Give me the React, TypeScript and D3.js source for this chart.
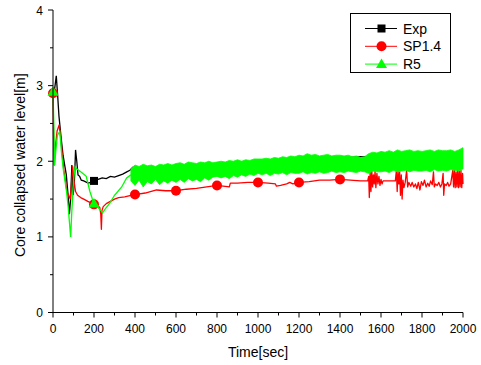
import React from "react";
import * as d3 from "d3";

const W = 481;
const H = 365;

const xTicks = [0, 200, 400, 600, 800, 1000, 1200, 1400, 1600, 1800, 2000];
const xMinor = [100, 300, 500, 700, 900, 1100, 1300, 1500, 1700, 1900];
const yTicks = [0, 1, 2, 3, 4];
const yMinor = [0.5, 1.5, 2.5, 3.5];

const seriesNames = ["Exp", "SP1.4", "R5"];
const seriesColors = ["#000000", "#ff0000", "#00ff00"];

// Exp (black)
const expT = [0, 5, 10, 16, 22, 29, 40, 49, 57, 65, 72, 80, 86, 92, 98, 104, 110, 116, 122, 130, 138, 150, 171, 185, 200, 220, 240, 260, 280, 300, 320, 340, 360, 375, 390, 420, 450, 500, 550, 600, 650, 700, 750, 800, 850, 900, 950, 1000, 1050, 1100, 1150, 1200, 1300, 1400, 1500, 1600, 1700, 1800, 1900, 2000];
const expV = [2.95, 2.9, 3.0, 3.13, 2.9, 2.6, 2.3, 2.08, 1.95, 1.82, 1.6, 1.3, 1.5, 1.95, 1.55, 1.7, 2.15, 2.0, 1.82, 1.8, 1.75, 1.74, 1.71, 1.72, 1.74, 1.76, 1.78, 1.77, 1.8, 1.79, 1.81, 1.83, 1.86, 1.88, 1.92, 1.9, 1.92, 1.91, 1.93, 1.93, 1.94, 1.95, 1.96, 1.97, 1.96, 1.98, 1.99, 1.99, 2.0, 2.01, 2.01, 2.02, 2.03, 2.04, 2.06, 2.05, 2.06, 2.07, 2.07, 2.08];
const expMarkT = [200];

// SP1.4 (red)
const spT = [0, 3, 6, 12, 20, 30, 38, 45, 52, 60, 68, 76, 84, 90, 96, 102, 110, 120, 135, 150, 170, 200, 215, 228, 233, 236, 239, 245, 260, 280, 300, 320, 350, 380, 400, 450, 505, 550, 600, 650, 700, 750, 800, 860, 865, 900, 950, 1000, 1050, 1085, 1090, 1110, 1140, 1155, 1170, 1200, 1250, 1300, 1350, 1400, 1450, 1500, 1535,
  1540, 1543, 1547, 1551, 1555, 1559, 1563, 1567, 1571, 1575, 1580, 1585, 1590, 1595, 1600, 1605, 1610, 1640, 1670,
  1675, 1679, 1683, 1687, 1691, 1695, 1699, 1703, 1707, 1712, 1718, 1725, 1730, 1736,
  1745, 1752, 1760, 1768, 1775, 1782, 1790, 1797, 1805, 1812, 1820, 1828, 1835, 1842, 1850, 1856, 1860, 1866, 1874, 1882, 1890, 1897, 1903, 1906, 1910, 1918, 1925, 1932, 1940,
  1950, 1954, 1958, 1962, 1966, 1970, 1974, 1978, 1982, 1986, 1990, 1994, 1998, 2000];
const spV = [2.9, 2.3, 1.95, 2.2, 2.4, 2.48, 2.3, 2.1, 1.9, 1.75, 1.6, 1.55, 1.5, 1.7, 1.93, 1.75, 1.6, 1.55, 1.52, 1.5, 1.47, 1.43, 1.41, 1.39, 1.3, 1.1, 1.35, 1.4, 1.44, 1.47, 1.5, 1.52, 1.53, 1.55, 1.56, 1.58, 1.62, 1.61, 1.61, 1.63, 1.64, 1.66, 1.68, 1.66, 1.71, 1.71, 1.72, 1.72, 1.71, 1.7, 1.67, 1.68, 1.7, 1.72, 1.7, 1.72, 1.73, 1.75, 1.75, 1.76, 1.75, 1.74, 1.74,
  1.8, 1.52, 1.86, 1.6, 1.88, 1.66, 1.82, 1.7, 1.87, 1.65, 1.84, 1.7, 1.8, 1.68, 1.76, 1.7, 1.74, 1.74, 1.74,
  1.88, 1.6, 1.87, 1.7, 1.86, 1.55, 1.82, 1.5, 1.75, 1.65, 1.72, 1.88, 1.66, 1.72,
  1.67, 1.72, 1.66, 1.7, 1.64, 1.72, 1.62, 1.73, 1.68, 1.75, 1.66, 1.71, 1.67, 1.74, 1.69, 1.86, 1.66, 1.7, 1.68, 1.72, 1.66, 1.7, 1.84, 1.55, 1.7, 1.68, 1.72, 1.67, 1.7,
  1.88, 1.66, 1.88, 1.65, 1.86, 1.66, 1.88, 1.65, 1.87, 1.66, 1.88, 1.65, 1.84, 1.7];
const spMarkT = [0, 200, 400, 600, 800, 1000, 1200, 1400];

// R5 (green) early trace
const r5T = [0, 4, 8, 14, 22, 33, 42, 50, 58, 66, 74, 80, 86, 92, 100, 108, 115, 125, 140, 162, 180, 192, 200, 215, 230, 242, 255, 278, 300, 310, 335, 359, 380];
const r5V = [2.92, 2.5, 1.95, 2.15, 2.35, 2.39, 2.1, 1.9, 1.75, 1.6, 1.4, 1.2, 1.0, 1.35, 1.75, 1.93, 1.9, 1.88, 1.85, 1.8, 1.6, 1.5, 1.44, 1.4, 1.36, 1.32, 1.37, 1.45, 1.55, 1.58, 1.66, 1.78, 1.82];
// R5 oscillation band (lower / upper envelope, read every 20 s)
const bandT = [380, 400, 420, 440, 460, 480, 500, 520, 540, 560, 580, 600,
  620, 640, 660, 680, 700, 720, 740, 760, 780, 800,
  820, 840, 860, 880, 900, 920, 940, 960, 980, 1000,
  1020, 1040, 1060, 1080, 1100, 1120, 1140, 1160, 1180, 1200,
  1220, 1240, 1260, 1280, 1300, 1320, 1340, 1360, 1380, 1400,
  1420, 1440, 1460, 1480, 1500, 1520, 1540, 1560, 1580, 1600,
  1620, 1640, 1660, 1680, 1700, 1720, 1740, 1760, 1780, 1800,
  1820, 1840, 1860, 1880, 1900, 1920, 1940, 1960, 1980, 2000];
const bandHi = [1.9, 1.95, 1.93, 1.96, 1.94, 1.95, 1.93, 1.96, 1.95, 1.97, 1.95, 1.97,
  1.98, 1.96, 1.99, 1.98, 1.97, 1.99, 1.98, 2.0, 1.98, 1.99,
  2.0, 1.99, 2.01, 2.0, 2.02, 2.0, 2.02, 2.01, 2.03, 2.03,
  2.03, 2.04, 2.03, 2.05, 2.04, 2.06, 2.05, 2.07, 2.06, 2.08,
  2.07, 2.1, 2.08, 2.09, 2.07, 2.08, 2.09, 2.07, 2.08, 2.08,
  2.07, 2.08, 2.06, 2.07, 2.05, 2.06, 2.1, 2.12, 2.11, 2.13,
  2.12, 2.14, 2.12, 2.15, 2.13, 2.14, 2.15, 2.13, 2.14, 2.13,
  2.14, 2.15, 2.13, 2.15, 2.14, 2.14, 2.15, 2.13, 2.15, 2.18];
const bandLo = [1.74, 1.68, 1.75, 1.66, 1.73, 1.7, 1.76, 1.69, 1.74, 1.71, 1.75, 1.72,
  1.76, 1.72, 1.77, 1.74, 1.76, 1.73, 1.78, 1.75, 1.79, 1.8,
  1.78, 1.8, 1.77, 1.81, 1.79, 1.82, 1.8, 1.83, 1.81, 1.84,
  1.82, 1.84, 1.81, 1.84, 1.83, 1.85, 1.82, 1.85, 1.84, 1.84,
  1.86, 1.83, 1.85, 1.84, 1.86, 1.84, 1.85, 1.87, 1.85, 1.86,
  1.85, 1.87, 1.86, 1.85, 1.87, 1.86, 1.84, 1.87, 1.86, 1.86,
  1.87, 1.85, 1.88, 1.86, 1.87, 1.88, 1.86, 1.88, 1.87, 1.87,
  1.88, 1.86, 1.89, 1.87, 1.88, 1.87, 1.89, 1.88, 1.87, 1.9];
const r5MarkT = [0, 200];

const x = d3.scaleLinear().domain([0, 2000]).range([53, 463]);
const y = d3.scaleLinear().domain([0, 4]).range([312.5, 10]);

const FONT = "Arial, 'Liberation Sans', Helvetica, sans-serif";

function interp(ts: number[], vs: number[], t: number) {
  const i = d3.bisectLeft(ts, t);
  if (i <= 0) return vs[0];
  if (i >= ts.length) return vs[vs.length - 1];
  const t0 = ts[i - 1], t1 = ts[i];
  const f = (t - t0) / (t1 - t0);
  return vs[i - 1] + f * (vs[i] - vs[i - 1]);
}

export default function App() {
  const line = d3.line<[number, number]>().x((d) => x(d[0])).y((d) => y(d[1]));
  const expPath = line(expT.map((t, i) => [t, expV[i]]))!;
  const spPath = line(spT.map((t, i) => [t, spV[i]]))!;
  const r5Path = line(r5T.map((t, i) => [t, r5V[i]]))!;
  const bandArea = d3
    .area<number>()
    .x((_, i) => x(bandT[i]))
    .y0((_, i) => y(bandLo[i]))
    .y1((_, i) => y(bandHi[i]))(bandT)!;

  const square = (cx: number, cy: number, c: string, k: string) => (
    <rect key={k} x={cx - 4} y={cy - 4} width={8} height={8} fill={c} />
  );
  const circle = (cx: number, cy: number, c: string, k: string) => (
    <circle key={k} cx={cx} cy={cy} r={5} fill={c} />
  );
  const tri = (cx: number, cy: number, c: string, k: string) => (
    <path key={k} d={`M${cx},${cy - 5.5}L${cx + 5.5},${cy + 4}L${cx - 5.5},${cy + 4}Z`} fill={c} />
  );

  const x0 = x(0);
  const yb = y(0);

  return (
    <svg width={W} height={H} style={{ position: "absolute", left: 0, top: 0, background: "#fff" }} fontFamily={FONT}>
      <rect width={W} height={H} fill="#fff" />
      {/* Exp */}
      <path d={expPath} fill="none" stroke={seriesColors[0]} strokeWidth={1.3} />
      {expMarkT.map((t, i) => square(x(t), y(interp(expT, expV, t)), seriesColors[0], "e" + i))}
      {/* SP1.4 */}
      <path d={spPath} fill="none" stroke={seriesColors[1]} strokeWidth={1.3} strokeLinejoin="round" />
      {spMarkT.map((t, i) => circle(x(t), y(interp(spT, spV, t)), seriesColors[1], "s" + i))}
      {/* R5 */}
      <path d={bandArea} fill={seriesColors[2]} stroke={seriesColors[2]} strokeWidth={0.8} />
      <path d={r5Path} fill="none" stroke={seriesColors[2]} strokeWidth={1.3} />
      {r5MarkT.map((t, i) => tri(x(t), y(interp(r5T, r5V, t)), seriesColors[2], "g" + i))}

      {/* axes */}
      <line x1={x0} x2={x0} y1={y(4)} y2={yb} stroke="#000" strokeWidth={1} />
      <line x1={x0} x2={x(2000)} y1={yb} y2={yb} stroke="#000" strokeWidth={1} />
      {yTicks.map((v) => (
        <g key={"yt" + v}>
          <line x1={x0 - 5} x2={x0} y1={y(v)} y2={y(v)} stroke="#000" />
          <text x={x0 - 10} y={y(v) + 4.5} fontSize={12} textAnchor="end">{v}</text>
        </g>
      ))}
      {yMinor.map((v) => (
        <line key={"ym" + v} x1={x0 - 3} x2={x0} y1={y(v)} y2={y(v)} stroke="#000" />
      ))}
      {xTicks.map((t) => (
        <g key={"xt" + t}>
          <line x1={x(t)} x2={x(t)} y1={yb} y2={yb + 5} stroke="#000" />
          <text x={x(t)} y={yb + 20} fontSize={12} textAnchor="middle">{t}</text>
        </g>
      ))}
      {xMinor.map((t) => (
        <line key={"xm" + t} x1={x(t)} x2={x(t)} y1={yb} y2={yb + 3} stroke="#000" />
      ))}
      <text x={258} y={357} fontSize={14} textAnchor="middle">Time[sec]</text>
      <text transform={`translate(25,${(y(4) + yb) / 2 + 4}) rotate(-90)`} fontSize={14} textAnchor="middle">
        Core collapsed water level[m]
      </text>

      {/* legend */}
      <rect x={350.5} y={13.5} width={100} height={59} fill="#fff" stroke="#000" strokeWidth={1} />
      {seriesNames.map((n, i) => {
        const ly = 28.5 + i * 17.8;
        const c = seriesColors[i];
        return (
          <g key={"lg" + i}>
            <line x1={365} x2={397} y1={ly} y2={ly} stroke={c} strokeWidth={1} />
            {i === 0 ? square(381.5, ly, c, "ls") : i === 1 ? circle(381.5, ly, c, "lc") : tri(381.5, ly, c, "lt")}
            <text x={403} y={ly + 5} fontSize={14}>{n}</text>
          </g>
        );
      })}
    </svg>
  );
}
